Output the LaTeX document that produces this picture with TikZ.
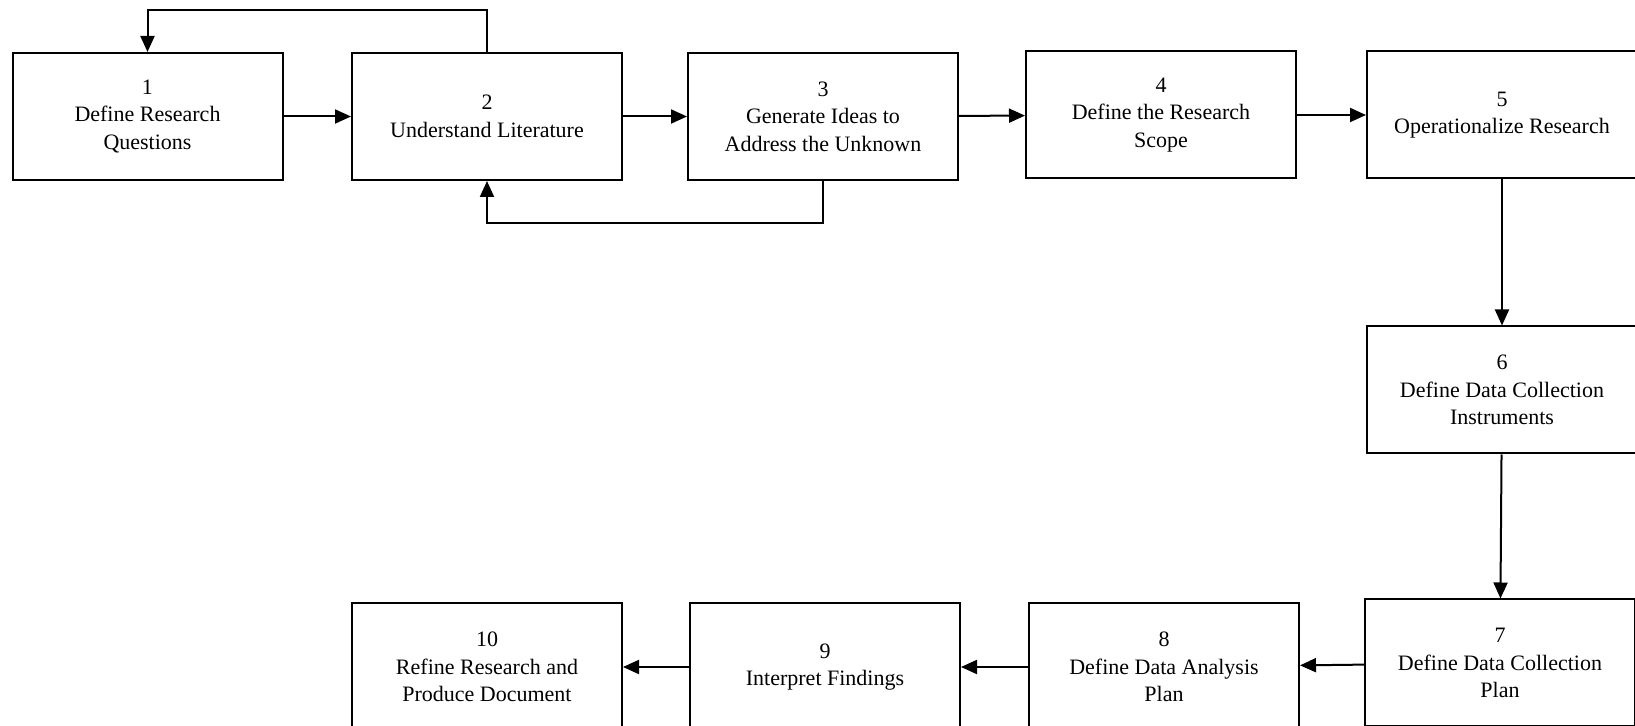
\documentclass[tikz,border=0pt]{standalone}
\usepackage{fontspec}
\setmainfont{Liberation Serif}
\usetikzlibrary{arrows.meta}
\begin{document}
\begin{tikzpicture}[
      x=0.5pt, y=-0.5pt,
      every node/.style={font=\fontsize{11}{13.8}\selectfont},
      stage/.style={rectangle, draw=black, line width=1pt, minimum width=135pt, minimum height=63.5pt, align=center, inner sep=2pt},
      flow/.style={line width=1pt, -{Triangle[length=8pt, width=7pt]}}
  ]
    \useasboundingbox (0,0) rectangle (1635,726);
    \node[stage] (s1) at (147.5,116.5) {1\\Define Research\\Questions};
    \node[stage] (s2) at (487,116.5) {2\\Understand Literature};
    \node[stage] (s3) at (823,116.5) {3\\Generate Ideas to\\Address the Unknown};
    \node[stage] (s4) at (1161,115) {4\\Define the Research\\Scope};
    \node[stage] (s5) at (1502,115) {5\\Operationalize Research};
    \node[stage] (s6) at (1502,390) {6\\Define Data Collection\\Instruments};
    \node[stage] (s7) at (1500,663) {7\\Define Data Collection\\Plan};
    \node[stage] (s8) at (1164,667) {8\\Define Data Analysis\\Plan};
    \node[stage] (s9) at (825,667) {9\\Interpret Findings};
    \node[stage] (s10) at (487,667) {10\\Refine Research and\\Produce Document};

    \foreach \a/\b in {s1/s2,s2/s3,s3/s4,s4/s5,s5/s6,s6/s7,s7/s8,s8/s9,s9/s10} {
      \draw[flow] (\a) -- (\b);
    }
    % feedback loops
    \draw[flow] (s2.north) -- ++(0,-42) -| (s1.north);
    \draw[flow] (s3.south) -- ++(0,42) -| (s2.south);
  \end{tikzpicture}
\end{document}
